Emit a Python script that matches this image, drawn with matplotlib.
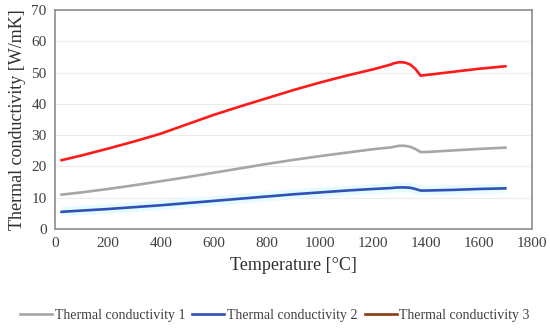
import numpy as np
import matplotlib.pyplot as plt
from matplotlib.lines import Line2D

# datos
temp = [25, 100, 200, 300, 400, 500, 600, 700, 800, 900, 1000, 1100, 1200, 1270,
        1280, 1300, 1320, 1340, 1360, 1380, 1400, 1500, 1600, 1700]
k1 = [11.0, 11.7, 12.8, 14.0, 15.3, 16.6, 18.0, 19.4, 20.8, 22.1, 23.3, 24.4, 25.5, 26.1,
      26.3, 26.6, 26.6, 26.3, 25.6, 24.6, 24.6, 25.1, 25.6, 26.0]
k2 = [5.5, 5.9, 6.4, 7.0, 7.6, 8.3, 9.0, 9.7, 10.4, 11.1, 11.7, 12.3, 12.8, 13.1,
      13.2, 13.3, 13.3, 13.2, 12.8, 12.3, 12.3, 12.5, 12.8, 13.0]
k3 = [22.0, 23.5, 25.7, 28.0, 30.5, 33.5, 36.5, 39.2, 41.8, 44.4, 46.8, 49.0, 51.0, 52.6,
      53.0, 53.3, 53.2, 52.6, 51.2, 49.0, 49.2, 50.2, 51.2, 52.0]

labels = ["Thermal conductivity 1", "Thermal conductivity 2", "Thermal conductivity 3"]
line_colors = ["#a6a6a6", "#3050b8", "#ff1a1a"]
legend_colors = ["#a6a6a6", "#3050b8", "#8b3a0f"]

plt.rcParams['font.family'] = ['Liberation Serif', 'DejaVu Serif']

fig = plt.figure(figsize=(5.5, 3.31), dpi=100)
ax = fig.add_axes([0.1, 0.308, 0.867, 0.662])

# halo suave detrás de la curva azul
ax.plot(temp, k2, color="#e6fbff", lw=7, solid_capstyle="butt", zorder=1)
for y, c in zip([k1, k2, k3], line_colors):
    ax.plot(temp, y, color=c, lw=1.9, zorder=3)

ax.set_xlim(0, 1800)
ax.set_ylim(0, 70)
ax.set_xticks(np.arange(0, 1801, 200))
ax.set_yticks(np.arange(0, 71, 10))
ax.tick_params(length=0, labelsize=11, colors="#404040", pad=6)
ax.grid(axis="y", color="#ececec", lw=0.8)
ax.set_axisbelow(True)
for s in ax.spines.values():
    s.set_color("#8c8c8c")
    s.set_linewidth(1.2)

ax.set_xlabel("Temperature [°C]", fontsize=13, color="#303030", labelpad=5)
ax.set_ylabel("Thermal conductivity [W/mK]", fontsize=13, color="#303030", labelpad=4)

handles = [Line2D([], [], color=c, lw=1.9) for c in legend_colors]
fig.legend(handles, labels, loc="lower center", bbox_to_anchor=(0.5, -0.01), ncol=3,
           frameon=False, fontsize=10, handlelength=2.3, columnspacing=0.5,
           handletextpad=0.2, labelcolor="#404040")

fig.savefig("out.png", dpi=100)
